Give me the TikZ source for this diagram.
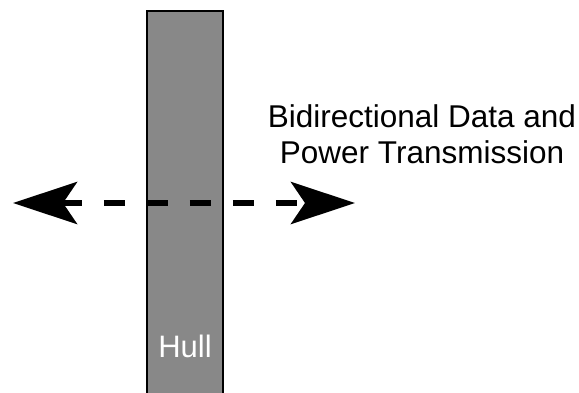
\documentclass[tikz,border=0pt]{standalone}
\usepackage{fontspec}
\setmainfont{Liberation Sans}
\usetikzlibrary{arrows.meta}
\definecolor{hullgray}{HTML}{888888}
\tikzset{
  hullbox/.style={draw=black, line width=2pt, fill=hullgray, minimum width=76pt, minimum height=400pt, inner sep=0pt, anchor=north},
  hulllabel/.style={text=white, font=\fontsize{31}{36}\selectfont, anchor=base, inner sep=0pt},
  caption/.style={font=\fontsize{31.5}{36}\selectfont, align=center, anchor=base, inner sep=0pt},
  bidir/.style={line width=6pt, dash pattern=on 21pt off 22pt, dash phase=0pt,
    {Stealth[length=64pt, width=42pt, inset=14pt]}-{Stealth[length=64pt, width=42pt, inset=14pt]}}
}
\begin{document}
\begin{tikzpicture}[x=1pt,y=-1pt]
\useasboundingbox (0,0) rectangle (579,392);
\clip (0,0) rectangle (579,392);
\node[hullbox] (hull) at (184.5,10) {};
\node[hulllabel] (hl) at (185,357) {Hull};
\node[caption] (cap) at (422,163) {Bidirectional Data and\\Power Transmission};
\coordinate (L) at (13,203);
\coordinate (R) at (355,203);
\draw[bidir] (L) -- (R);
\end{tikzpicture}
\end{document}
